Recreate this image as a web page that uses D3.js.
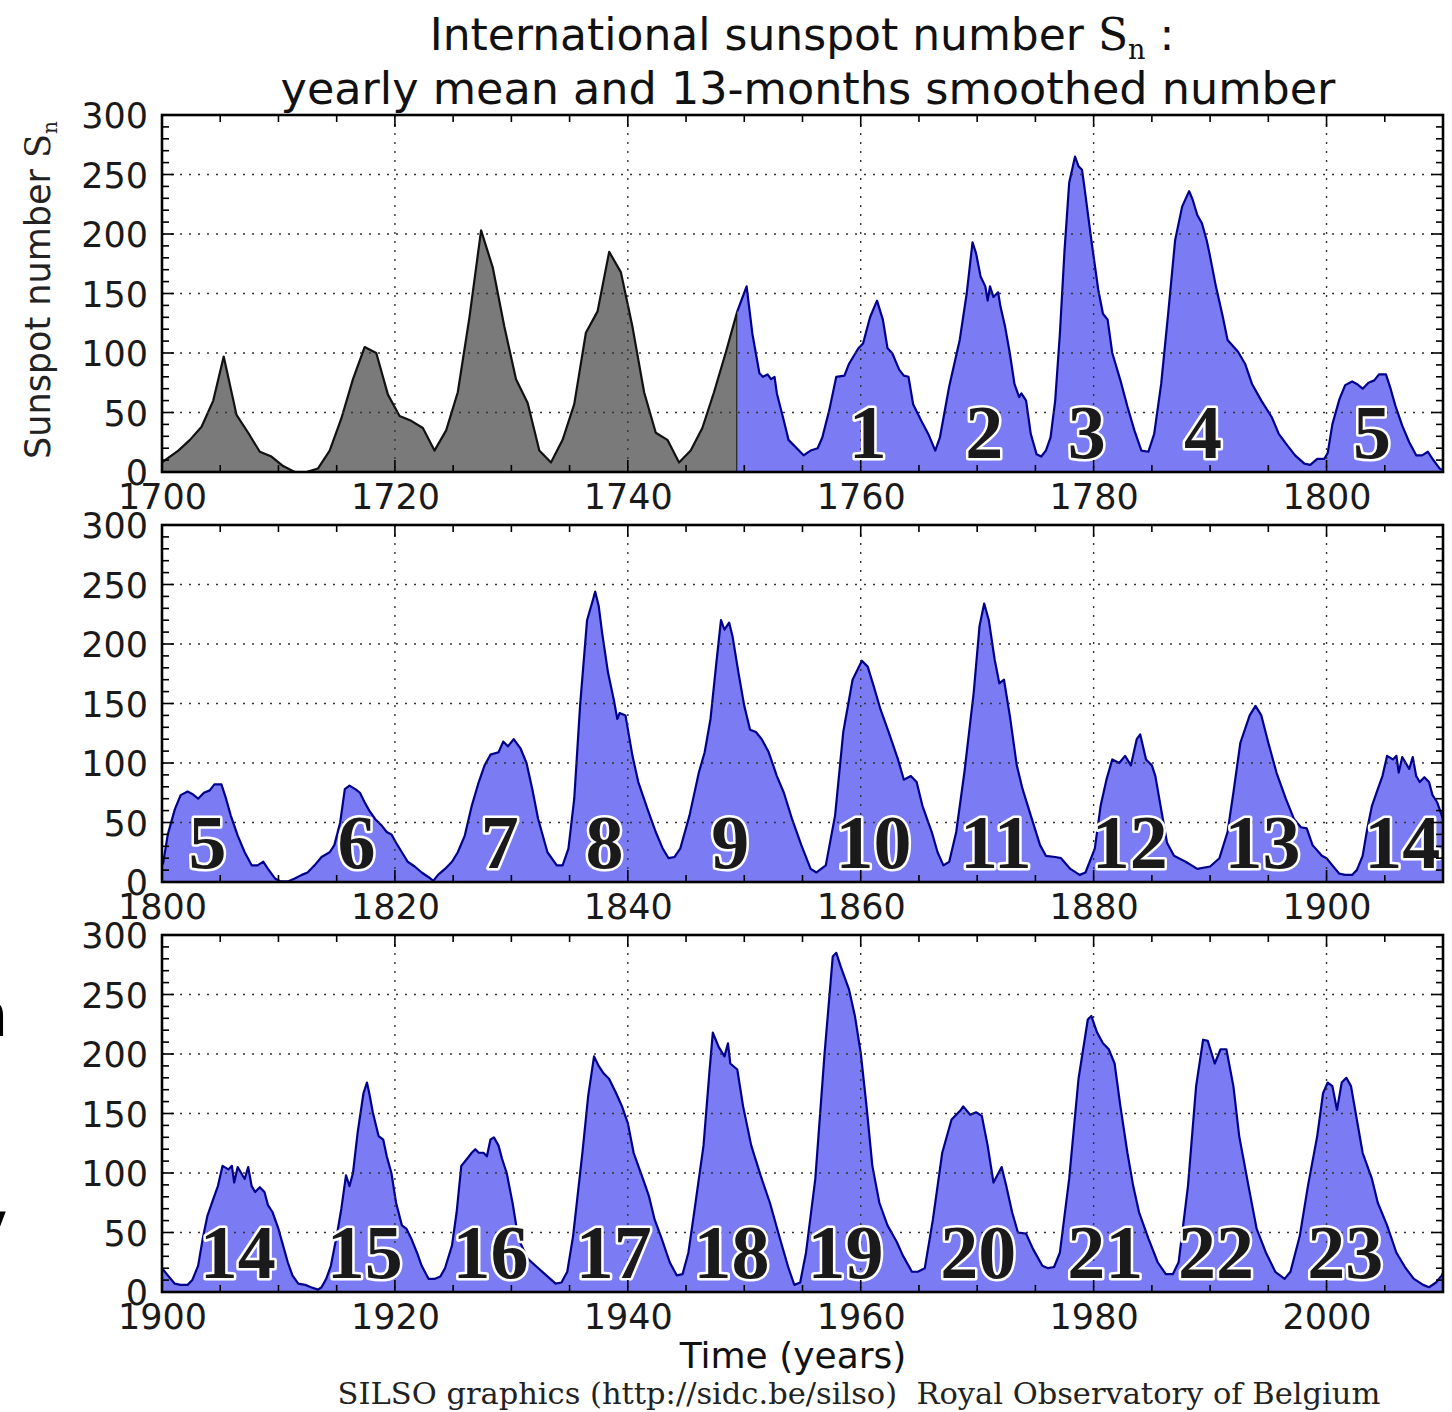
<!DOCTYPE html>
<html>
<head>
<meta charset="utf-8">
<script src="https://cdn.jsdelivr.net/npm/d3@7"></script>
<style>
  html, body { margin: 0; padding: 0; background: #fff; }
  svg { display: block; }
</style>
</head>
<body>
<div id="chart"></div>
<script>
// ---------------- DATA ----------------
// Yearly mean sunspot number (grey part, before the monthly series starts)
const yearlyTime = [1700.0, 1701.4, 1702.4, 1703.4, 1704.4, 1705.3, 1706.4, 1707.4, 1708.4, 1709.4,
  1710.4, 1711.4, 1712.4, 1713.4, 1714.4, 1715.4, 1716.4, 1717.4, 1718.4, 1719.4,
  1720.4, 1721.4, 1722.4, 1723.4, 1724.4, 1725.4, 1726.4, 1727.4, 1728.4, 1729.4,
  1730.4, 1731.4, 1732.4, 1733.4, 1734.4, 1735.4, 1736.4, 1737.4, 1738.4, 1739.4,
  1740.4, 1741.4, 1742.4, 1743.4, 1744.4, 1745.4, 1746.4, 1747.4, 1748.4, 1749.4];
const yearlyValue = [8, 18, 27, 38, 60, 97, 48, 33, 17, 13,
  5, 0, 0, 3, 18, 45, 78, 105, 100, 65,
  47, 43, 37, 18, 35, 67, 130, 203, 172, 122,
  78, 58, 18, 8, 27, 57, 117, 135, 185, 168,
  122, 67, 33, 27, 8, 18, 37, 67, 100, 135];

// 13-months smoothed sunspot number (blue part)
const smoothedTime = [
  1749.4, 1750.2, 1750.7, 1751.3, 1751.6, 1752.0, 1752.3, 1752.6, 1752.8, 1753.4, 1753.8, 1754.4, 1755.1, 1755.4, 1755.7, 1756.3, 1756.7, 1757.3, 1757.9, 1758.6, 1759.0, 1759.8,
  1760.2, 1760.8, 1761.4, 1761.9, 1762.3, 1762.7, 1763.3, 1763.7, 1764.1, 1764.5, 1765.2, 1765.8, 1766.4, 1766.8, 1767.6, 1768.5, 1769.1, 1769.6, 1769.9,
  1770.3, 1770.7, 1770.9, 1771.1, 1771.4, 1771.8, 1772.0, 1772.4, 1772.8, 1773.2, 1773.6, 1773.8, 1774.2, 1774.6, 1775.1, 1775.5, 1775.9, 1776.3, 1776.7, 1777.1, 1777.5, 1777.9, 1778.4, 1778.7, 1779.0, 1779.2, 1779.8,
  1780.4, 1780.8, 1781.2, 1781.6, 1782.3, 1782.9, 1783.5, 1784.1, 1784.7, 1785.2, 1785.8, 1786.4, 1787.0, 1787.6, 1788.2, 1788.5, 1788.9, 1789.3, 1789.7, 1789.9,
  1790.5, 1791.1, 1791.5, 1792.4, 1793.0, 1793.6, 1794.4, 1795.3, 1795.9, 1796.5, 1797.3, 1798.1, 1798.6, 1799.2, 1799.8,
  1800.1, 1800.5, 1801.1, 1801.6, 1802.2, 1802.6, 1803.1, 1803.6, 1804.1, 1804.5, 1805.1, 1805.5, 1805.9, 1806.5, 1807.1, 1807.7, 1808.2, 1808.7, 1809.1, 1809.7,
  1810.2, 1810.8, 1811.4, 1812.0, 1812.5, 1813.1, 1813.7, 1814.4, 1814.8, 1815.3, 1815.7, 1816.1, 1816.6, 1817.0, 1817.4, 1817.8, 1818.3, 1818.9, 1819.3, 1819.7,
  1820.1, 1820.6, 1821.1, 1821.7, 1822.3, 1822.9, 1823.3, 1823.7, 1824.3, 1824.9, 1825.4, 1826.0, 1826.6, 1827.2, 1827.7, 1828.2, 1828.9, 1829.3, 1829.7,
  1830.2, 1830.8, 1831.3, 1831.8, 1832.3, 1833.1, 1833.9, 1834.4, 1834.9, 1835.4, 1835.9, 1836.5, 1837.0, 1837.2, 1837.5, 1837.8, 1838.3, 1838.8, 1839.1, 1839.3, 1839.8,
  1840.4, 1840.9, 1841.7, 1842.4, 1843.0, 1843.5, 1844.0, 1844.5, 1845.3, 1846.1, 1846.6, 1847.1, 1847.6, 1848.0, 1848.3, 1848.7, 1849.0, 1849.5,
  1850.0, 1850.5, 1851.0, 1851.5, 1852.1, 1852.8, 1853.4, 1854.1, 1854.9, 1855.7, 1856.2, 1857.0, 1857.8, 1858.5, 1859.3,
  1860.1, 1860.6, 1861.1, 1861.7, 1862.4, 1863.2, 1863.7, 1864.3, 1864.8, 1865.3, 1866.1, 1866.6, 1867.1, 1867.6, 1868.2, 1868.9, 1869.7,
  1870.2, 1870.6, 1871.0, 1871.5, 1871.9, 1872.3, 1872.8, 1873.4, 1873.9, 1874.6, 1875.4, 1875.9, 1876.7, 1877.2, 1878.0, 1878.8, 1879.3,
  1880.1, 1880.6, 1881.1, 1881.6, 1882.2, 1882.7, 1883.2, 1883.7, 1884.0, 1884.5, 1885.0, 1885.3, 1885.8, 1886.3, 1886.9, 1887.9, 1888.9,
  1890.0, 1890.8, 1891.5, 1892.0, 1892.6, 1893.4, 1893.9, 1894.4, 1895.0, 1895.7, 1896.5, 1897.2, 1897.8, 1898.3, 1898.8, 1899.6,
  1900.0, 1900.5, 1901.1, 1901.6, 1902.2, 1902.6, 1903.1, 1903.5, 1903.9, 1904.4, 1904.8, 1905.2, 1905.7, 1906.0, 1906.2, 1906.5, 1906.8, 1907.1, 1907.4, 1907.7, 1908.0, 1908.4, 1908.8, 1909.1, 1909.5,
  1910.0, 1910.4, 1910.8, 1911.2, 1911.7, 1912.3, 1912.8, 1913.4, 1913.7, 1914.1, 1914.5, 1915.0, 1915.4, 1915.8, 1916.1, 1916.4, 1916.8, 1917.3, 1917.6, 1917.8, 1918.1, 1918.6, 1919.0, 1919.3, 1919.7,
  1920.1, 1920.6, 1921.0, 1921.4, 1921.9, 1922.3, 1922.9, 1923.4, 1923.9, 1924.3, 1924.9, 1925.3, 1925.7, 1926.2, 1926.6, 1926.9, 1927.2, 1927.6, 1927.9, 1928.2, 1928.5, 1928.9, 1929.2, 1929.6,
  1930.1, 1930.6, 1931.4, 1932.2, 1933.0, 1933.8, 1934.3, 1934.8, 1935.3, 1936.1, 1936.6, 1937.1, 1937.5, 1937.9, 1938.4, 1939.0, 1939.5,
  1940.0, 1940.5, 1941.3, 1941.8, 1942.3, 1942.9, 1943.6, 1944.2, 1944.7, 1945.2, 1945.7, 1946.5, 1947.0, 1947.3, 1947.8, 1948.3, 1948.6, 1948.8, 1949.4, 1949.9,
  1950.6, 1951.4, 1952.2, 1953.0, 1953.8, 1954.3, 1954.8, 1955.3, 1956.1, 1956.9, 1957.6, 1957.9, 1958.3, 1959.0, 1959.5,
  1960.0, 1960.5, 1961.0, 1961.6, 1962.3, 1963.1, 1963.6, 1964.4, 1964.9, 1965.5, 1966.2, 1967.0, 1967.8, 1968.6, 1968.8, 1969.4, 1969.9,
  1970.4, 1970.9, 1971.4, 1972.1, 1972.5, 1973.0, 1973.5, 1974.2, 1974.8, 1975.6, 1976.1, 1976.6, 1977.1, 1977.9, 1978.7, 1979.5, 1979.8,
  1980.3, 1980.8, 1981.3, 1981.8, 1982.3, 1982.9, 1983.4, 1983.9, 1984.7, 1985.5, 1986.2, 1986.8, 1987.3, 1988.1, 1988.8, 1989.4, 1989.8,
  1990.4, 1990.9, 1991.4, 1992.0, 1992.5, 1993.3, 1994.0, 1994.8, 1995.6, 1996.4, 1996.9, 1997.7, 1998.4, 1999.2, 1999.7,
  2000.1, 2000.5, 2000.9, 2001.3, 2001.7, 2002.1, 2002.6, 2003.1, 2003.9, 2004.4, 2005.2, 2006.0, 2006.8, 2007.5, 2008.3, 2008.8, 2009.4, 2009.9, 2010.0];
const smoothedValue = [
  135, 156, 116, 83, 80, 82, 78, 80, 66, 43, 27, 21, 14, 16, 18, 20, 29, 52, 80, 81, 91, 104,
  108, 130, 144, 128, 104, 100, 86, 81, 80, 57, 43, 32, 18, 29, 72, 111, 150, 193, 184,
  164, 156, 144, 156, 147, 151, 139, 122, 100, 74, 63, 66, 60, 32, 15, 13, 18, 29, 60, 116, 186, 243, 265, 257, 254, 240, 195,
  153, 133, 128, 100, 77, 55, 35, 18, 17, 32, 74, 133, 195, 223, 236, 229, 216, 209, 195, 186,
  156, 130, 111, 101, 91, 74, 60, 46, 32, 24, 14, 7, 6, 11, 11,
  16, 40, 61, 73, 76, 74, 70, 75, 77, 82, 82, 70, 56, 39, 25, 14, 14, 17, 11, 3,
  0.5, 0.5, 3, 6, 8, 14, 21, 25, 31, 50, 78, 81, 78, 75, 67, 60, 53, 47, 42, 40,
  33, 25, 17, 13, 8, 4, 1, 6, 11, 17, 25, 39, 64, 84, 98, 107, 109, 118, 114,
  120, 112, 100, 78, 53, 25, 14, 14, 28, 70, 148, 220, 237, 244, 232, 209, 176, 153, 137, 142, 140,
  106, 84, 61, 42, 28, 20, 21, 28, 56, 92, 109, 137, 184, 220, 212, 218, 206, 176,
  148, 128, 126, 120, 109, 89, 75, 53, 31, 11, 8, 14, 56, 126, 170,
  186, 181, 165, 145, 126, 103, 86, 89, 84, 64, 42, 25, 14, 17, 42, 92, 159,
  215, 234, 220, 187, 167, 170, 140, 98, 78, 56, 31, 22, 21, 20, 11, 6, 8,
  28, 64, 86, 103, 100, 106, 98, 120, 124, 103, 98, 89, 61, 33, 22, 17, 11,
  13, 20, 42, 75, 117, 140, 148, 140, 117, 92, 70, 53, 46, 45, 31, 22,
  20, 14, 7, 6, 6, 10, 22, 45, 64, 78, 89, 106, 103, 106, 92, 105, 100, 95, 105, 89, 84, 88, 84, 73, 67,
  53, 39, 25, 14, 7, 6, 4, 2, 4, 11, 22, 47, 70, 98, 89, 100, 134, 167, 176, 167, 151, 131, 128, 114, 100,
  75, 56, 53, 45, 33, 22, 11, 11, 13, 20, 39, 67, 106, 112, 117, 120, 117, 117, 114, 128, 130, 123, 112, 100,
  75, 45, 28, 21, 14, 7, 8, 17, 47, 117, 165, 198, 190, 184, 179, 167, 156,
  142, 117, 95, 81, 61, 45, 25, 14, 15, 33, 67, 123, 184, 218, 206, 198, 209, 192, 187, 156,
  123, 98, 75, 47, 20, 6, 8, 33, 95, 201, 282, 285, 273, 254, 232,
  201, 156, 106, 75, 56, 42, 31, 17, 17, 20, 61, 117, 145, 153, 156, 149, 151,
  148, 123, 92, 105, 89, 67, 50, 49, 36, 22, 20, 21, 33, 95, 179, 229, 232,
  218, 209, 204, 192, 156, 117, 89, 67, 45, 25, 15, 15, 25, 89, 173, 212, 211,
  192, 204, 204, 173, 131, 89, 53, 33, 17, 11, 17, 47, 89, 131, 167,
  176, 173, 153, 176, 180, 173, 145, 117, 95, 75, 56, 33, 20, 11, 6, 4, 8, 14, 16];

// Solar cycle numbers and the year each label is centred on
const cycleNumbers = ["1", "2", "3", "4", "5", "6", "7", "8", "9", "10", "11", "12",
  "13", "14", "15", "16", "17", "18", "19", "20", "21", "22", "23"];
const cycleYears = [1760.6, 1770.6, 1779.4, 1789.4, 1803.9, 1816.7, 1829.0, 1838.0, 1848.8, 1861.1, 1871.6, 1883.1,
  1894.5, 1906.5, 1917.4, 1928.2, 1938.8, 1948.9, 1958.7, 1970.1, 1981.0, 1990.5, 2001.6];

// Panel start years (each panel spans 110 years)
const panelStarts = [1700, 1800, 1900];
const yTickValues = [0, 50, 100, 150, 200, 250, 300];

// ---------------- LAYOUT ----------------
const W = 1452, H = 1412;
const left = 162, right = 1443;
const panelTops = [115, 525, 935];
const panelH = 357;

const svg = d3.select("#chart").append("svg")
  .attr("width", W).attr("height", H)
  .attr("viewBox", `0 0 ${W} ${H}`);
svg.append("rect").attr("width", W).attr("height", H).attr("fill", "#fff");

const sans = "'DejaVu Sans', sans-serif";
const serif = "'DejaVu Serif', serif";

const yearly = yearlyTime.map((t, i) => ({ t, v: yearlyValue[i] }));
const smoothed = smoothedTime.map((t, i) => ({ t, v: smoothedValue[i] }));
const cycles = cycleNumbers.map((n, i) => ({ n, t: cycleYears[i] }));

panelStarts.forEach((start, pi) => {
  const top = panelTops[pi];
  const bottom = top + panelH;
  const x = d3.scaleLinear().domain([start, start + 110]).range([left, right]);
  const y = d3.scaleLinear().domain([0, 300]).range([bottom, top]);

  const g = svg.append("g");
  const clipId = "clip" + pi;
  g.append("clipPath").attr("id", clipId)
    .append("rect").attr("x", left).attr("y", top).attr("width", right - left).attr("height", panelH);

  const plot = g.append("g").attr("clip-path", `url(#${clipId})`);

  const area = d3.area().x(d => x(d.t)).y0(y(0)).y1(d => y(d.v));
  const line = d3.line().x(d => x(d.t)).y(d => y(d.v));

  // grey yearly part
  plot.append("path").datum(yearly).attr("d", area).attr("fill", "#7a7a7a");
  plot.append("path").datum(yearly).attr("d", line)
    .attr("fill", "none").attr("stroke", "#111").attr("stroke-width", 2.2).attr("stroke-linejoin", "round");
  const lastY = yearly[yearly.length - 1];
  plot.append("line").attr("x1", x(lastY.t)).attr("x2", x(lastY.t))
    .attr("y1", y(0)).attr("y2", y(lastY.v)).attr("stroke", "#111").attr("stroke-width", 2);

  // blue smoothed part
  plot.append("path").datum(smoothed).attr("d", area).attr("fill", "#7b7bf3");
  plot.append("path").datum(smoothed).attr("d", line)
    .attr("fill", "none").attr("stroke", "#00008c").attr("stroke-width", 2.2).attr("stroke-linejoin", "round");

  // grid
  const xMajor = d3.range(start, start + 111, 20);
  const xMinor = d3.range(start, start + 111, 5);
  const yMinor = d3.range(0, 301, 10);
  const grid = g.append("g").attr("stroke", "#333").attr("stroke-width", 1.4)
    .attr("stroke-dasharray", "2,7");
  grid.selectAll(".gx").data(xMajor.filter(v => v > start && v < start + 110)).enter().append("line")
    .attr("x1", d => x(d)).attr("x2", d => x(d)).attr("y1", top).attr("y2", bottom);
  grid.selectAll(".gy").data(yTickValues.filter(v => v > 0 && v < 300)).enter().append("line")
    .attr("x1", left).attr("x2", right).attr("y1", d => y(d)).attr("y2", d => y(d));

  // cycle labels
  const lab = g.append("g").attr("clip-path", `url(#${clipId})`);
  lab.selectAll("text").data(cycles.filter(c => c.t > start && c.t < start + 110)).enter().append("text")
    .attr("x", d => x(d.t)).attr("y", bottom - 14)
    .attr("text-anchor", "middle")
    .attr("font-family", "'Liberation Serif', serif").attr("font-weight", "bold")
    .attr("font-size", 76)
    .attr("fill", "#1a1a1a").attr("stroke", "#fff").attr("stroke-width", 5)
    .attr("stroke-linejoin", "round").attr("paint-order", "stroke")
    .text(d => d.n);

  // ticks (inward on all sides)
  const ticks = g.append("g").attr("stroke", "#000").attr("stroke-width", 1.6);
  xMinor.forEach(v => {
    const major = (v - start) % 20 === 0;
    const L = major ? 12 : 7;
    ticks.append("line").attr("x1", x(v)).attr("x2", x(v)).attr("y1", bottom).attr("y2", bottom - L);
    ticks.append("line").attr("x1", x(v)).attr("x2", x(v)).attr("y1", top).attr("y2", top + L);
  });
  yMinor.forEach(v => {
    const major = v % 50 === 0;
    const L = major ? 12 : 7;
    ticks.append("line").attr("x1", left).attr("x2", left + L).attr("y1", y(v)).attr("y2", y(v));
    ticks.append("line").attr("x1", right).attr("x2", right - L).attr("y1", y(v)).attr("y2", y(v));
  });

  // frame
  g.append("rect").attr("x", left).attr("y", top).attr("width", right - left).attr("height", panelH)
    .attr("fill", "none").attr("stroke", "#000").attr("stroke-width", 2.6);

  // tick labels
  const xAxis = d3.axisBottom(x).tickValues(xMajor.filter(v => v < start + 110))
    .tickFormat(d3.format("d")).tickSize(0).tickPadding(0);
  const xa = g.append("g").attr("transform", `translate(0,${bottom})`).call(xAxis);
  xa.select(".domain").remove();
  xa.selectAll("text").attr("font-family", sans).attr("font-size", 35).attr("fill", "#1a1a1a")
    .attr("dy", null).attr("y", 37);

  const yAxis = d3.axisLeft(y).tickValues(yTickValues).tickFormat(d3.format("d")).tickSize(0).tickPadding(0);
  const ya = g.append("g").attr("transform", `translate(${left - 14},0)`).call(yAxis);
  ya.select(".domain").remove();
  ya.selectAll("text").attr("font-family", sans).attr("font-size", 35).attr("fill", "#1a1a1a")
    .attr("dy", "0.36em");
});

// ---------------- TEXTS ----------------
const t1 = svg.append("text").attr("x", 802).attr("y", 50).attr("text-anchor", "middle")
  .attr("font-family", sans).attr("font-size", 44).attr("fill", "#111");
t1.append("tspan").text("International sunspot number ");
t1.append("tspan").attr("font-family", serif).text("S");
t1.append("tspan").attr("font-family", serif).attr("font-size", 27).attr("dy", 9).text("n");
t1.append("tspan").attr("dy", -9).text(" :");

svg.append("text").attr("x", 808).attr("y", 104).attr("text-anchor", "middle")
  .attr("font-family", sans).attr("font-size", 44.5).attr("fill", "#111")
  .text("yearly mean and 13-months smoothed number");

const yl = svg.append("text").attr("transform", "translate(50,290) rotate(-90)")
  .attr("text-anchor", "middle").attr("font-family", sans).attr("font-size", 35).attr("fill", "#222");
yl.append("tspan").text("Sunspot number ");
yl.append("tspan").attr("font-family", serif).text("S");
yl.append("tspan").attr("font-family", serif).attr("font-size", 20).attr("dy", 7).text("n");

svg.append("text").attr("x", 793).attr("y", 1368).attr("text-anchor", "middle")
  .attr("font-family", sans).attr("font-size", 36).attr("fill", "#111").text("Time (years)");

svg.append("text").attr("x", 859).attr("y", 1404).attr("text-anchor", "middle")
  .attr("font-family", serif).attr("font-size", 30.5).attr("fill", "#222")
  .style("white-space", "pre")
  .text("SILSO graphics (http://sidc.be/silso)  Royal Observatory of Belgium");

// cut-off glyphs at the left edge of the picture (as in the reference)
svg.append("text").attr("x", 8).attr("y", 1036).attr("text-anchor", "end")
  .attr("font-family", sans).attr("font-weight", "bold").attr("font-size", 62).attr("fill", "#000").text("n");
svg.append("text").attr("x", 7).attr("y", 1246).attr("text-anchor", "end")
  .attr("font-family", sans).attr("font-weight", "bold").attr("font-size", 62).attr("fill", "#000").text("y");
</script>
</body>
</html>
